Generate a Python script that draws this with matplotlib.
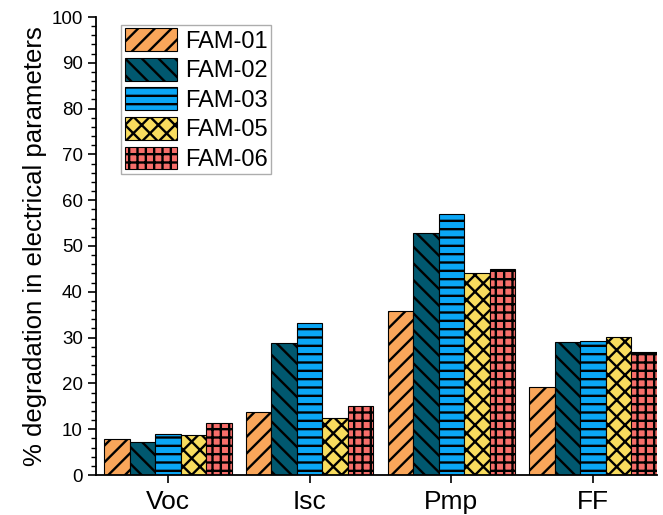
import matplotlib
matplotlib.use("Agg")
import matplotlib.pyplot as plt
import numpy as np
from matplotlib.ticker import MultipleLocator

# ── Data ──────────────────────────────────────────────────────────────────────
parameters = ["Voc", "Isc", "Pmp", "FF"]
modules = ["FAM-01", "FAM-02", "FAM-03", "FAM-05", "FAM-06"]

fam01 = [7.9, 13.7, 35.8, 19.3]
fam02 = [7.2, 28.8, 52.9, 29.0]
fam03 = [9.0, 33.2, 57.0, 29.3]
fam05 = [8.8, 12.5, 44.2, 30.1]
fam06 = [11.4, 15.1, 44.9, 26.8]

series = [fam01, fam02, fam03, fam05, fam06]
colors = ["#F9A65A", "#01586F", "#0AA6F5", "#F8DC5E", "#F76E6A"]
hatches = ["//", "\\\\", "--", "xx", "++"]

# ── Plot ──────────────────────────────────────────────────────────────────────
plt.rcParams["font.family"] = ["Liberation Sans", "DejaVu Sans"]
plt.rcParams["hatch.linewidth"] = 1.7

fig = plt.figure(figsize=(6.63, 5.15), dpi=100)
ax = fig.add_axes([96 / 663, 40 / 515, (657 - 96) / 663, (475 - 17) / 515])

x = np.arange(len(parameters))
width = 0.18
for i, (vals, name) in enumerate(zip(series, modules)):
    ax.bar(x + (i - 2) * width, vals, width, label=name,
           color=colors[i], hatch=hatches[i], edgecolor="black", linewidth=0.8)

ax.set_xlim(-0.507, 3.45)
ax.set_ylim(0, 100)
ax.set_xticks(x)
ax.set_xticklabels(parameters, fontsize=19)
ax.yaxis.set_major_locator(MultipleLocator(10))
ax.yaxis.set_minor_locator(MultipleLocator(2))
ax.tick_params(axis="y", which="major", labelsize=13.5, length=6, width=1.2, direction="out")
ax.tick_params(axis="y", which="minor", length=3.5, width=1.0, direction="out")
ax.tick_params(axis="x", which="major", length=6, width=1.2, direction="out", pad=5)
ax.set_ylabel("% degradation in electrical parameters", fontsize=18.5, labelpad=3)

ax.spines["top"].set_visible(False)
ax.spines["right"].set_visible(False)
ax.spines["left"].set_linewidth(1.3)
ax.spines["bottom"].set_linewidth(1.3)

leg = ax.legend(loc="upper left", bbox_to_anchor=(0.045, 0.983), fontsize=17,
                frameon=True, fancybox=False, edgecolor="#999999",
                handlelength=2.2, handleheight=1.1, handletextpad=0.35,
                labelspacing=0.22, borderpad=0.15, borderaxespad=0.0)
leg.get_frame().set_linewidth(1.0)

fig.savefig("out.png", dpi=100, facecolor="white")
